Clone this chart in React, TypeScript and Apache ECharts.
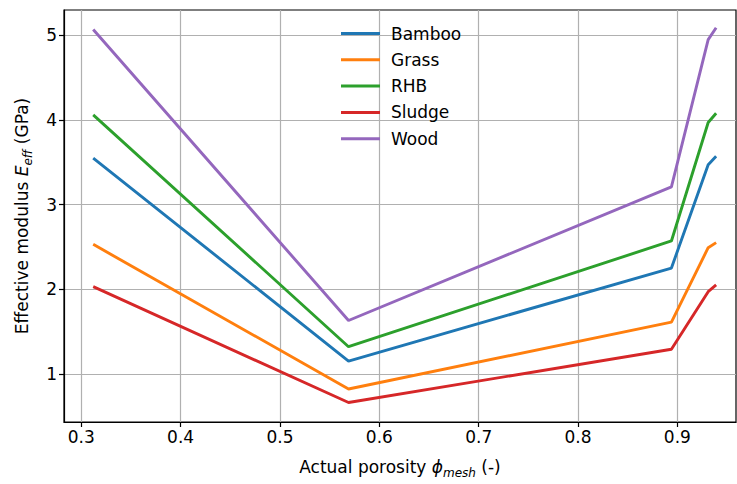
import React, { useEffect, useRef } from "react";
import * as echarts from "echarts";

const porosity = [0.312, 0.569, 0.894, 0.931, 0.939];
const seriesNames = ["Bamboo", "Grass", "RHB", "Sludge", "Wood"];
const bamboo = [3.55, 1.15, 2.25, 3.47, 3.57];
const grass = [2.53, 0.82, 1.61, 2.49, 2.55];
const rhb = [4.06, 1.32, 2.57, 3.97, 4.08];
const sludge = [2.03, 0.66, 1.29, 1.97, 2.05];
const wood = [5.07, 1.63, 3.21, 4.95, 5.09];
const xTicks = [0.3, 0.4, 0.5, 0.6, 0.7, 0.8, 0.9];
const yTicks = [1, 2, 3, 4, 5];
const colors = ["#1f77b4", "#ff7f0e", "#2ca02c", "#d62728", "#9467bd"];

const FONT = "DejaVu Sans";
const FS = 17;

export default function App() {
  const ref = useRef<HTMLDivElement>(null);
  useEffect(() => {
    if (!ref.current) return;
    const chart = echarts.init(ref.current, null, { renderer: "svg" });
    const values = [bamboo, grass, rhb, sludge, wood];
    const series = seriesNames.map((name, i) => ({
      name,
      type: "line",
      data: porosity.map((x, j) => [x, values[i][j]]),
      showSymbol: false,
      symbol: "none",
      lineStyle: { color: colors[i], width: 2.9 },
      itemStyle: { color: colors[i] },
      z: 3,
    }));
    const rich = {
      i: { fontFamily: FONT, fontSize: FS, fontStyle: "italic", color: "#000", lineHeight: 24 },
      s: { fontFamily: FONT, fontSize: 12, fontStyle: "italic", color: "#000", verticalAlign: "bottom", lineHeight: 12 },
    };
    chart.setOption({
      animation: false,
      backgroundColor: "#fff",
      textStyle: { fontFamily: FONT },
      grid: {
        left: 64,
        right: 1,
        top: 10,
        bottom: 57,
        show: true,
        borderColor: "#000",
        borderWidth: 1.2,
        backgroundColor: "transparent",
      },
      legend: {
        orient: "vertical",
        left: 341,
        top: 25,
        padding: 0,
        icon: "rect",
        itemWidth: 39,
        itemHeight: 3,
        itemGap: 9.3,
        data: seriesNames,
        textStyle: { fontFamily: FONT, fontSize: FS, color: "#000", lineHeight: 17, padding: [0, 0, 0, 6] },
      },
      xAxis: {
        type: "value",
        min: 0.2826,
        max: 0.959,
        name: "Actual porosity {i|ϕ}{s|mesh} (-)",
        nameLocation: "middle",
        nameGap: 33,
        nameTextStyle: { fontFamily: FONT, fontSize: FS, color: "#000", rich },
        axisLine: { show: true, onZero: false, lineStyle: { color: "#000", width: 1.2 } },
        axisTick: { show: true, length: 5, customValues: xTicks, lineStyle: { color: "#000", width: 1.2 } },
        axisLabel: {
          customValues: xTicks,
          fontFamily: FONT,
          fontSize: FS,
          color: "#000",
          margin: 6,
          formatter: (v: number) => v.toFixed(1),
        },
        splitLine: { show: true, lineStyle: { color: "#b0b0b0", width: 1.2 } },
      },
      yAxis: {
        type: "value",
        min: 0.43,
        max: 5.3,
        name: "Effective modulus {i|E}{s|eff} (GPa)",
        nameLocation: "middle",
        nameRotate: 90,
        nameGap: 30,
        nameTextStyle: { fontFamily: FONT, fontSize: FS, color: "#000", rich },
        axisLine: { show: true, onZero: false, lineStyle: { color: "#000", width: 1.2 } },
        axisTick: { show: true, length: 5, customValues: yTicks, lineStyle: { color: "#000", width: 1.2 } },
        axisLabel: {
          customValues: yTicks,
          fontFamily: FONT,
          fontSize: FS,
          color: "#000",
          margin: 7,
          formatter: (v: number) => String(Math.round(v)),
        },
        splitLine: { show: true, lineStyle: { color: "#b0b0b0", width: 1.2 } },
      },
      series,
    });
    return () => chart.dispose();
  }, []);
  return <div ref={ref} style={{ width: 737, height: 484, position: "absolute", left: 0, top: 0 }} />;
}
